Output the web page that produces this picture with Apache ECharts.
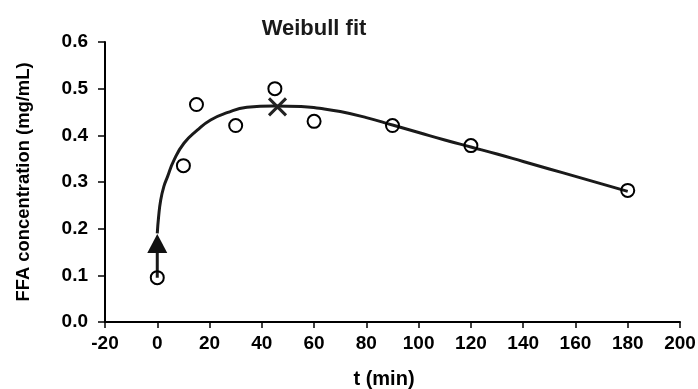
<!DOCTYPE html>
<html><head><meta charset="utf-8">
<script src="https://cdn.jsdelivr.net/npm/echarts@6/dist/echarts.min.js"></script>
<style>html,body{margin:0;padding:0;background:#fff}#c{width:698px;height:389px}</style>
</head><body><div id="c"></div>
<script>
var obsT = [0, 10, 15, 30, 45, 60, 90, 120, 180];
var obsY = [0.095, 0.335, 0.466, 0.421, 0.5, 0.43, 0.421, 0.378, 0.282];
var fitT = [0, 0.5, 1.3, 2.5, 3.9, 6.4, 10.2, 15.3, 20.4, 26.7, 34.3, 44.5, 55, 62, 70, 80, 90, 100, 110, 120, 130, 140, 150, 160, 170, 180];
var fitY = [0.19, 0.225, 0.261, 0.29, 0.311, 0.347, 0.383, 0.411, 0.433, 0.4485, 0.460, 0.463, 0.462, 0.458, 0.451, 0.438, 0.422, 0.406, 0.390, 0.375, 0.360, 0.344, 0.328, 0.312, 0.296, 0.28];
var startPt = [0, 0.168];
var maxPt = [46, 0.461];
var arrowFrom = [0, 0.095];
var title = 'Weibull fit';
var xName = 't (min)';
var yName = 'FFA concentration (mg/mL)';

function zip(a, b) { return a.map(function (v, i) { return [v, b[i]]; }); }
var font = 'Liberation Sans, Arial, sans-serif';
var chart = echarts.init(document.getElementById('c'));
chart.setOption({
  animation: false,
  backgroundColor: '#fff',
  title: { text: title, left: 309, top: 13, textAlign: 'center',
    textStyle: { fontFamily: font, fontWeight: 'bold', fontSize: 22, color: '#1a1a1a' } },
  grid: { left: 105, right: 18, top: 42, bottom: 67, containLabel: false, outerBoundsMode: 'none' },
  xAxis: {
    type: 'value', min: -20, max: 200, interval: 20,
    name: xName, nameLocation: 'middle', nameGap: 47,
    nameTextStyle: { fontFamily: font, fontWeight: 'bold', fontSize: 20, color: '#000', padding: [0, 17, 0, 0] },
    axisLine: { onZero: false, lineStyle: { color: '#000', width: 2 } },
    axisTick: { show: true, inside: false, length: 6, lineStyle: { color: '#000', width: 1.5 } },
    axisLabel: { fontFamily: font, fontWeight: 'bold', fontSize: 19, color: '#000', margin: 12 },
    splitLine: { show: false }
  },
  yAxis: {
    type: 'value', min: 0, max: 0.6, interval: 0.1,
    name: yName, nameLocation: 'middle', nameGap: 72, nameRotate: 90,
    nameTextStyle: { fontFamily: font, fontWeight: 'bold', fontSize: 18.4, color: '#000' },
    axisLine: { show: true, onZero: false, lineStyle: { color: '#000', width: 2 } },
    axisTick: { show: true, inside: false, length: 7, lineStyle: { color: '#000', width: 1.5 } },
    axisLabel: { fontFamily: font, fontWeight: 'bold', fontSize: 19, color: '#000', margin: 17,
      formatter: function (v) { return v.toFixed(1); } },
    splitLine: { show: false }
  },
  series: [
    { type: 'line', data: zip(fitT, fitY), smooth: 0.5, showSymbol: false, symbol: 'none',
      lineStyle: { color: '#1a1a1a', width: 3 }, z: 2 },
    { type: 'line', data: [arrowFrom, startPt], showSymbol: false, symbol: 'none',
      lineStyle: { color: '#1a1a1a', width: 3 }, z: 2 },
    { type: 'scatter', data: zip(obsT, obsY), symbol: 'circle', symbolSize: 13,
      itemStyle: { color: 'rgba(255,255,255,0)', borderColor: '#000', borderWidth: 2, opacity: 1 }, z: 4 },
    { type: 'scatter', data: [startPt], symbol: 'triangle', symbolSize: [20, 19],
      itemStyle: { color: '#111', opacity: 1 }, z: 5 },
    { type: 'scatter', data: [maxPt],
      symbol: 'path://M0,0 L2,2 M2,0 L0,2', symbolSize: 17,
      itemStyle: { color: 'none', borderColor: '#222', borderWidth: 3, opacity: 1 }, z: 5 }
  ]
});
</script></body></html>
